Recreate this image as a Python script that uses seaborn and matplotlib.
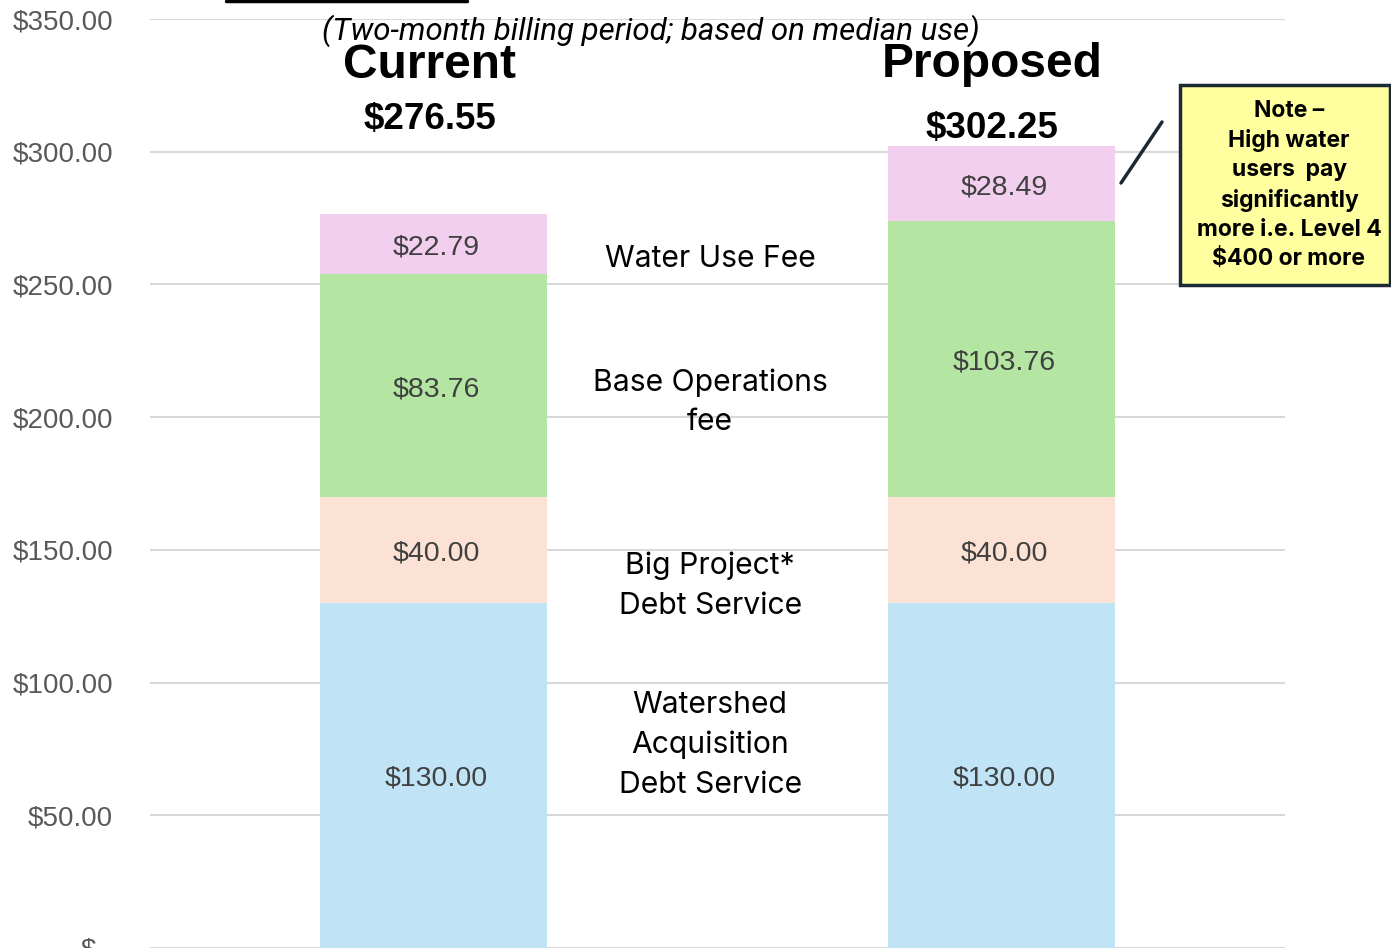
import matplotlib
matplotlib.use("Agg")
import matplotlib.pyplot as plt
from matplotlib.lines import Line2D
from matplotlib.patches import Rectangle
from matplotlib.ticker import FuncFormatter
import seaborn as sns
import pandas as pd
import numpy as np

# data
scenarios = ["Current", "Proposed"]
watershed = [130.00, 130.00]
big_project = [40.00, 40.00]
base_ops = [83.76, 103.76]
water_use = [22.79, 28.49]

segment_names = ["Watershed\nAcquisition\nDebt Service", "Big Project*\nDebt Service",
                 "Base Operations\nfee", "Water Use Fee"]
segment_colors = ["#C0E4F5", "#FBE2D5", "#B4E5A2", "#F2CFEE"]

subtitle = "(Two-month billing period; based on median use)"
note_text = "Note \u2013\nHigh water\nusers  pay\nsignificantly\nmore i.e. Level 4\n$400 or more"

df = pd.DataFrame({"scenario": scenarios, "Watershed": watershed, "BigProject": big_project,
                   "BaseOps": base_ops, "WaterUse": water_use})
layers = ["Watershed", "BigProject", "BaseOps", "WaterUse"]
cum = df[layers].cumsum(axis=1)
bottoms = cum.shift(1, axis=1).fillna(0)

sns.set_style("white")
plt.rcParams["font.family"] = ["Liberation Sans", "DejaVu Sans"]

fig = plt.figure(figsize=(13.91, 9.48), dpi=100)
ax = fig.add_axes([150 / 1391, 0.0, (1285 - 150) / 1391, 1 - 19 / 948])

# stacked bars: draw cumulative totals from the top layer down
for layer, color in list(zip(layers, segment_colors))[::-1]:
    sns.barplot(x=df["scenario"], y=cum[layer], color=color, width=0.4,
                saturation=1, ax=ax, order=scenarios, linewidth=0)

ax.set_ylim(0, 350)
ax.set_xlim(-0.5, 1.5)
ax.set_yticks(np.arange(0, 351, 50))
ax.yaxis.set_major_formatter(FuncFormatter(lambda v, p: "$ -" if v == 0 else f"${v:,.2f}"))
ax.tick_params(axis="y", length=0, pad=26.5, labelsize=20, labelcolor="#595959")
ax.set_xticks([])
ax.set_xlabel("")
ax.set_ylabel("")
ax.grid(axis="y", color="#D9D9D9", linewidth=1.5)
ax.set_axisbelow(True)
for s in ax.spines.values():
    s.set_visible(False)

# segment value labels
for i in range(len(scenarios)):
    for layer in layers:
        val = df.loc[i, layer]
        ax.annotate(f"${val:,.2f}", (i + 0.005, bottoms.loc[i, layer] + val / 2),
                    xytext=(0, -2.5), textcoords="offset points", ha="center",
                    va="center", fontsize=20.5, color="#404040")

# category names between the bars
name_y = [76.6, 136.5, 205.6, 259.6]
for name, y in zip(segment_names, name_y):
    ax.text(0.487, y, name, ha="center", va="center", fontsize=21.7, color="black",
            family="Inter", linespacing=1.52)

# scenario headings and totals
totals = cum["WaterUse"].tolist()
head_x = [-0.007, 0.984]
head_y = [332.4, 332.8]
tot_y = [312.3, 308.9]
for i in range(len(scenarios)):
    ax.text(head_x[i], head_y[i], scenarios[i], ha="center", va="center",
            fontsize=34.5, fontweight="bold", color="black")
    ax.text(head_x[i], tot_y[i], f"${totals[i]:,.2f}", ha="center", va="center",
            fontsize=26.5, fontweight="bold", color="black")

fig.text(651 / 1391, 1 - 31 / 948, subtitle, ha="center", va="center", fontsize=22.5,
         style="italic", family="Roboto", color="black")

# underline fragment of the cut-off title
fig.add_artist(Line2D([226 / 1391, 467 / 1391], [1 - 1 / 948, 1 - 1 / 948],
                      color="black", linewidth=2.5))

# note box with connector
fig.add_artist(Rectangle((1180 / 1391, 1 - 285 / 948), (1390 - 1180) / 1391, 200 / 948,
                         facecolor="#FFFF9F", edgecolor="#1C2A36", linewidth=2.5))
fig.text(1289 / 1391, 1 - 185 / 948, note_text, ha="center", va="center", fontsize=16.5,
         fontweight="bold", family="Inter", linespacing=1.42, color="black")
fig.add_artist(Line2D([1121 / 1391, 1162 / 1391], [1 - 183 / 948, 1 - 122 / 948],
                      color="#1C2A36", linewidth=2.5))

fig.savefig("out.png", dpi=100)
